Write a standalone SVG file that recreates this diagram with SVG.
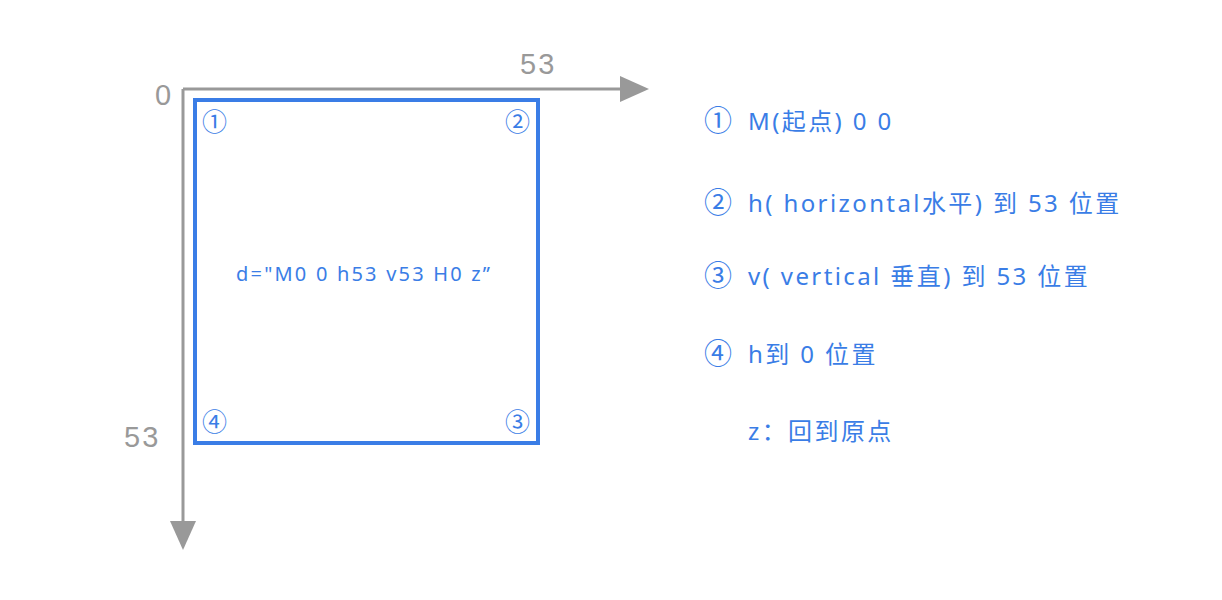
<svg xmlns="http://www.w3.org/2000/svg" width="1222" height="600" viewBox="0 0 1222 600">
<style>
.ax{stroke:#999;stroke-width:3;fill:none}
.axt{font-family:"Liberation Sans","Noto Sans CJK SC",sans-serif;font-size:29px;letter-spacing:2px;fill:#999}
.bl{font-family:"Noto Sans","Noto Sans CJK SC",sans-serif;fill:#3a7de6}
.cn{font-size:25px}
.rt{font-size:24px;letter-spacing:2.4px}
.rc{font-size:28px}
</style>
<defs>
<marker id="arr" markerUnits="userSpaceOnUse" markerWidth="30" markerHeight="26" refX="0" refY="13" orient="auto">
<path d="M0 0 L29 13 L0 26 Z" fill="#999"/>
</marker>
</defs>
<rect width="1222" height="600" fill="#fff"/>
<g id="connectors">
<path class="ax" d="M183 89 H620" marker-end="url(#arr)"/>
<path class="ax" d="M183 89 V521" marker-end="url(#arr)"/>
</g>
<g id="axis-labels">
<text class="axt" x="155" y="105">0</text>
<text class="axt" x="520" y="74">53</text>
<text class="axt" x="124" y="447">53</text>
</g>
<g id="square">
<rect x="195" y="100" width="343" height="343" fill="none" stroke="#3a7de6" stroke-width="4"/>
<text class="bl cn" x="202" y="131">①</text>
<text class="bl cn" x="505" y="131">②</text>
<text class="bl cn" x="505" y="431">③</text>
<text class="bl cn" x="202" y="431">④</text>
<text class="bl" font-size="20" letter-spacing="2.2" x="236" y="281">d="M0 0 h53 v53 H0 z”</text>
</g>
<g id="legend">
<text class="bl rc" x="704" y="131">①</text><text class="bl rt" x="748" y="130">M(起点) 0 0</text>
<text class="bl rc" x="704" y="213">②</text><text class="bl rt" x="748" y="212">h( horizontal水平) 到 53 位置</text>
<text class="bl rc" x="704" y="286">③</text><text class="bl rt" x="748" y="285">v( vertical 垂直) 到 53 位置</text>
<text class="bl rc" x="704" y="364">④</text><text class="bl rt" x="748" y="363">h到 0 位置</text>
<text class="bl rt" x="748" y="440">z：回到原点</text>
</g>
</svg>
